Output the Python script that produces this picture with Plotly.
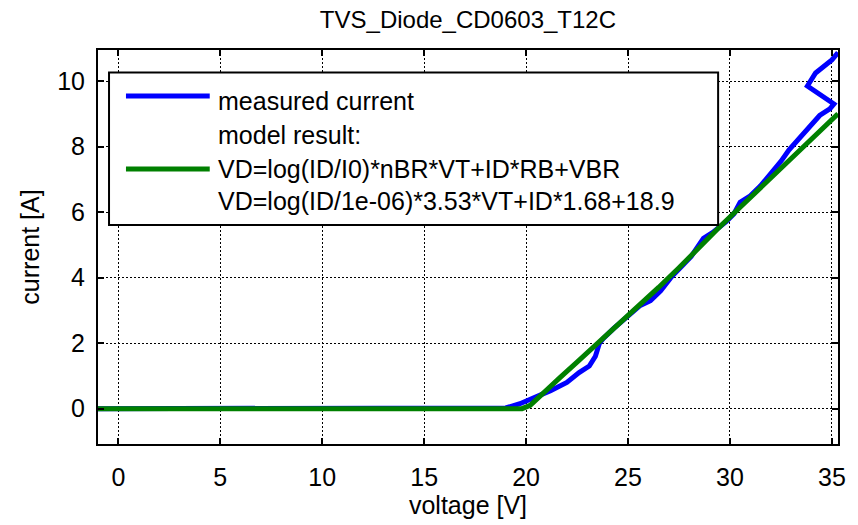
import plotly.graph_objects as go

title_text = "TVS_Diode_CD0603_T12C"
x_label = "voltage [V]"
y_label = "current [A]"
x_ticks = [0, 5, 10, 15, 20, 25, 30, 35]
y_ticks = [0, 2, 4, 6, 8, 10]

# measured current
meas_v = [-1.0, 5.0, 10.0, 15.0, 19.0, 19.7, 20.3, 20.8, 21.2, 22.0, 22.6, 23.1, 23.4, 23.6,
          23.8, 24.3, 25.0, 25.6, 26.1, 26.6, 27.1, 27.6, 28.1, 28.7, 29.2, 29.8, 30.2,
          30.5, 31.0, 31.5, 32.0, 32.5, 32.9, 33.4, 33.9, 34.4, 34.9, 35.1, 33.8, 34.2,
          35.0, 35.3]
meas_i = [0.0, 0.0, 0.0, 0.0, 0.02, 0.15, 0.3, 0.42, 0.55, 0.8, 1.1, 1.3, 1.6, 2.0,
          2.15, 2.45, 2.85, 3.15, 3.3, 3.6, 4.0, 4.35, 4.65, 5.2, 5.4, 5.7, 5.95,
          6.3, 6.5, 6.8, 7.15, 7.55, 7.9, 8.25, 8.6, 8.95, 9.15, 9.3, 9.85, 10.25,
          10.65, 10.87]

# model result
model_v = [-1.0, 5.0, 10.0, 15.0, 19.8, 20.2, 20.7, 21.7, 22.5, 23.5, 24.5, 25.5, 26.5,
           27.5, 28.5, 29.5, 30.5, 31.5, 32.5, 33.5, 34.5, 35.3]
model_i = [0.0, 0.0, 0.0, 0.0, 0.0, 0.1, 0.4, 0.97, 1.42, 1.98, 2.55, 3.1, 3.7,
           4.3, 4.95, 5.55, 6.15, 6.75, 7.35, 7.9, 8.5, 9.0]

legend_lines = ["measured current", "model result:",
                "VD=log(ID/I0)*nBR*VT+ID*RB+VBR",
                "VD=log(ID/1e-06)*3.53*VT+ID*1.68+18.9"]

FONT = "Liberation Sans, Arial, sans-serif"
FS = 25

fig = go.Figure()
fig.add_trace(go.Scatter(x=meas_v, y=meas_i, mode="lines",
                         line=dict(color="#0000ff", width=5), showlegend=False))
fig.add_trace(go.Scatter(x=model_v, y=model_i, mode="lines",
                         line=dict(color="#008000", width=5), showlegend=False))

axis_common = dict(showline=True, linecolor="black", linewidth=2, mirror="ticks",
                   ticks="inside", ticklen=6, tickwidth=2, tickcolor="black",
                   showgrid=True, gridcolor="black", gridwidth=1, griddash="2px,2px",
                   zeroline=False, tickfont=dict(family=FONT, size=FS, color="black"))

fig.update_xaxes(range=[-1.0, 35.3], tickvals=x_ticks, ticklabelstandoff=10,
                 title=dict(text=x_label, font=dict(family=FONT, size=FS, color="black"), standoff=4),
                 **axis_common)
fig.update_yaxes(range=[-1.08, 10.95], tickvals=y_ticks, ticklabelstandoff=6,
                 title=dict(text=y_label, font=dict(family=FONT, size=FS, color="black"), standoff=10),
                 **axis_common)

# legend box drawn manually
fig.add_shape(type="rect", xref="paper", yref="paper", x0=0.0149, x1=0.838, y0=0.556, y1=0.943,
              line=dict(color="black", width=2), fillcolor="white", layer="above")
fig.add_shape(type="line", xref="paper", yref="paper", x0=0.0378, x1=0.151, y0=0.883, y1=0.883,
              line=dict(color="#0000ff", width=5), layer="above")
fig.add_shape(type="line", xref="paper", yref="paper", x0=0.0378, x1=0.151, y0=0.698, y1=0.698,
              line=dict(color="#008000", width=5), layer="above")
for txt, yy in zip(legend_lines, [0.870, 0.783, 0.698, 0.616]):
    fig.add_annotation(text=txt, xref="paper", yref="paper", x=0.160, y=yy,
                       xanchor="left", yanchor="middle", showarrow=False,
                       font=dict(family=FONT, size=FS, color="black"))

fig.update_layout(
    width=858, height=525,
    margin=dict(l=98, r=20, t=50, b=74),
    paper_bgcolor="white", plot_bgcolor="white",
    title=dict(text=title_text, x=0.5454, xanchor="center", y=0.962, yanchor="middle",
               font=dict(family=FONT, size=FS - 1, color="black")),
    showlegend=False,
)

fig.write_html("out.html")
